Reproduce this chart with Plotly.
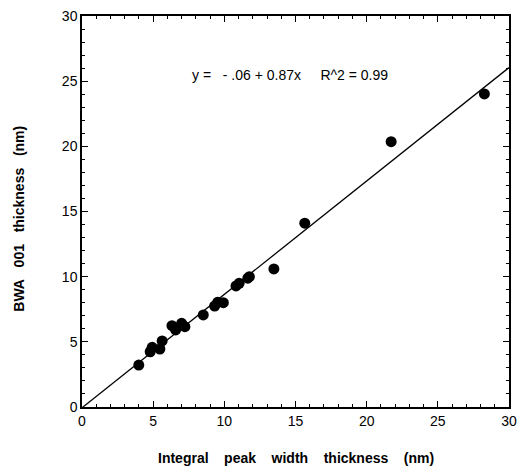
import plotly.graph_objects as go

# Data
x_vals = [3.99, 4.79, 4.93, 5.47, 5.63, 6.32, 6.58, 7.0, 7.23, 8.52,
          9.32, 9.53, 9.93, 10.82, 11.04, 11.65, 11.76, 13.48, 15.65, 21.72, 28.27]
y_vals = [3.22, 4.24, 4.58, 4.45, 5.07, 6.24, 5.91, 6.42, 6.16, 7.06,
          7.75, 8.03, 8.0, 9.29, 9.49, 9.88, 10.0, 10.59, 14.1, 20.36, 24.02]
intercept = -0.06
slope = 0.87
fit_x = [0, 30]
fit_y = [intercept + slope * v for v in fit_x]
tick_vals = [0, 5, 10, 15, 20, 25, 30]
equation = "y =\u00a0\u00a0 - .06 + 0.87x\u00a0\u00a0\u00a0\u00a0 R^2 = 0.99"
x_title = "\u00a0\u00a0\u00a0\u00a0".join(["Integral", "peak", "width", "thickness", "(nm)"])
y_title = "\u00a0\u00a0\u00a0".join(["BWA", "001", "thickness", "(nm)"])

font_family = "Liberation Sans, Arial, Helvetica, sans-serif"

fig = go.Figure()
fig.add_trace(go.Scatter(x=fit_x, y=fit_y, mode="lines",
                         line=dict(color="black", width=1.3), showlegend=False))
fig.add_trace(go.Scatter(x=x_vals, y=y_vals, mode="markers",
                         marker=dict(color="black", size=11), showlegend=False))

axis_common = dict(
    range=[0, 30], tickvals=tick_vals, ticks="inside", ticklen=6, tickwidth=1,
    tickcolor="black", showline=True, linecolor="black", linewidth=1.5,
    mirror="ticks", showgrid=False, zeroline=False, automargin=False,
    minor=dict(ticks="inside", ticklen=3, dtick=1, tickcolor="black", tickwidth=1),
    tickfont=dict(family=font_family, size=14, color="black"),
)

fig.update_layout(
    width=519, height=469,
    margin=dict(l=82, r=10, t=16, b=62),
    paper_bgcolor="white", plot_bgcolor="white",
    xaxis=dict(**axis_common),
    yaxis=dict(**axis_common),
    font=dict(family=font_family, color="black"),
    annotations=[
        dict(x=7.6, y=25.5, xref="x", yref="y", text=equation, showarrow=False,
             xanchor="left", yanchor="middle", font=dict(size=14, family=font_family)),
        dict(x=0.5, y=-0.13, xref="paper", yref="paper", text="<b>" + x_title + "</b>",
             showarrow=False, xanchor="center", yanchor="middle",
             font=dict(size=14, family=font_family)),
        dict(x=-0.148, y=0.481, xref="paper", yref="paper", text="<b>" + y_title + "</b>",
             showarrow=False, xanchor="center", yanchor="middle", textangle=-90,
             font=dict(size=14, family=font_family)),
    ],
)

fig.write_html("out.html")
